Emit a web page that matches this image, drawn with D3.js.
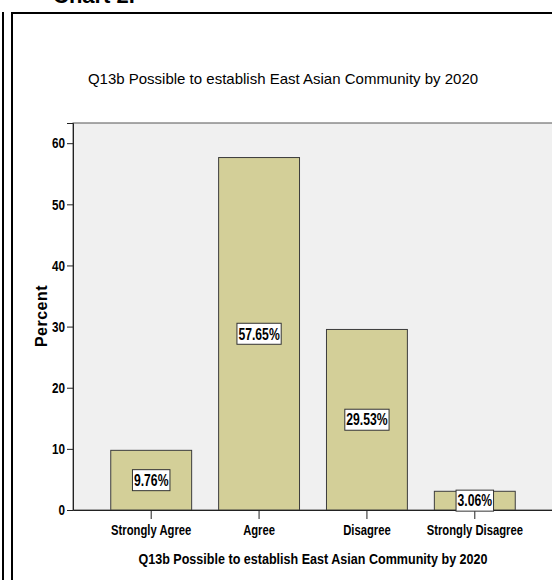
<!DOCTYPE html>
<html>
<head>
<meta charset="utf-8">
<script src="https://cdn.jsdelivr.net/npm/d3@7"></script>
<style>
  body { margin: 0; background: #ffffff; }
  svg { display: block; }
  .narrow { font-family: "Liberation Sans", Arial, sans-serif; font-weight: bold; }
</style>
</head>
<body>
<div id="chart"></div>
<script>
(function () {

    // data
    var categories = ["Strongly Agree", "Agree", "Disagree", "Strongly Disagree"];
    var percents = [9.76, 57.65, 29.53, 3.06];
    var y_ticks = [0, 10, 20, 30, 40, 50, 60];

    var width = 552, height = 580;
    var plot = { left: 73, top: 123, right: 553, bottom: 510 };

    // squeeze text horizontally to get a condensed face, like Arial Narrow
    function condense(sel, factor) {
        sel.each(function () {
            var w = this.getComputedTextLength();
            d3.select(this)
                .attr("textLength", w * factor)
                .attr("lengthAdjust", "spacingAndGlyphs");
        });
    }

    var svg = d3.select("#chart").append("svg")
        .attr("width", width)
        .attr("height", height);

    // page header, cut off at the top
    svg.append("text")
        .attr("x", 53)
        .attr("y", 3)
        .style("font-family", "Liberation Sans, Arial, sans-serif")
        .style("font-weight", "bold")
        .style("font-size", "22px")
        .text("Chart 2.");

    // frames
    svg.append("line")
        .attr("x1", 3).attr("y1", 12).attr("x2", 3).attr("y2", height)
        .style("stroke", "#000").style("stroke-width", 2);
    svg.append("path")
        .attr("d", "M12," + height + "V13H" + width)
        .style("fill", "none").style("stroke", "#000").style("stroke-width", 2);

    var x = d3.scaleBand()
        .domain(categories)
        .range([plot.left, plot.right])
        .paddingInner(0.25)
        .paddingOuter(0.35);

    var y = d3.scaleLinear()
        .domain([0, 63.3])
        .range([plot.bottom, plot.top]);

    // plot background
    svg.append("rect")
        .attr("x", plot.left)
        .attr("y", plot.top)
        .attr("width", plot.right - plot.left)
        .attr("height", plot.bottom - plot.top)
        .style("fill", "#f0f0f0")
        .style("stroke", "#555")
        .style("stroke-width", 1);

    var bars = categories.map(function (c, i) { return { cat: c, value: percents[i] }; });

    svg.selectAll("rect.bar")
        .data(bars)
        .enter()
        .append("rect")
        .attr("class", "bar")
        .attr("x", function (d) { return x(d.cat); })
        .attr("y", function (d) { return y(d.value); })
        .attr("width", x.bandwidth())
        .attr("height", function (d) { return y(0) - y(d.value); })
        .style("fill", "#d3cf98")
        .style("stroke", "#3c3c3c")
        .style("stroke-width", 1);

    // axes
    var yAxis = svg.append("g")
        .attr("transform", "translate(" + plot.left + ",0)")
        .call(d3.axisLeft(y).tickValues(y_ticks).tickSize(6).tickPadding(2).tickFormat(d3.format("d")));
    yAxis.attr("font-family", null).attr("font-size", null).attr("class", "narrow");
    yAxis.select(".domain").style("stroke", "#222");
    yAxis.selectAll(".tick line").style("stroke", "#222");
    yAxis.selectAll("text").style("font-size", "15px").style("fill", "#000").call(condense, 0.78);

    var xAxis = svg.append("g")
        .attr("transform", "translate(0," + plot.bottom + ")")
        .call(d3.axisBottom(x).tickSize(9).tickSizeOuter(0).tickPadding(5));
    xAxis.attr("font-family", null).attr("font-size", null).attr("class", "narrow");
    xAxis.select(".domain").style("stroke", "#222");
    xAxis.selectAll(".tick line").style("stroke", "#222");
    xAxis.selectAll("text").style("font-size", "15px").style("fill", "#000").call(condense, 0.75);

    // value labels in white boxes
    var labels = svg.selectAll("g.label")
        .data(bars)
        .enter()
        .append("g")
        .attr("class", "label narrow")
        .attr("transform", function (d) {
            return "translate(" + (x(d.cat) + x.bandwidth() / 2) + "," + ((y(d.value) + y(0)) / 2) + ")";
        });

    labels.append("text")
        .attr("text-anchor", "middle")
        .attr("dy", "0.36em")
        .style("font-size", "16px")
        .text(function (d) { return d.value.toFixed(2) + "%"; })
        .call(condense, 0.76);

    labels.each(function () {
        var g = d3.select(this);
        var w = +g.select("text").attr("textLength");
        g.insert("rect", "text")
            .attr("x", -w / 2 - 1.5)
            .attr("y", -10.5)
            .attr("width", w + 3)
            .attr("height", 21)
            .style("fill", "#fff")
            .style("stroke", "#333")
            .style("stroke-width", 1);
    });

    // titles
    svg.append("text")
        .attr("x", 283)
        .attr("y", 84)
        .attr("text-anchor", "middle")
        .style("font-family", "Liberation Sans, Arial, sans-serif")
        .style("font-size", "15px")
        .text("Q13b Possible to establish East Asian Community by 2020");

    svg.append("text")
        .attr("class", "narrow")
        .attr("x", (plot.left + plot.right) / 2)
        .attr("y", 564)
        .attr("text-anchor", "middle")
        .style("font-size", "15.5px")
        .text("Q13b Possible to establish East Asian Community by 2020")
        .call(condense, 0.81);

    svg.append("text")
        .attr("transform", "translate(47,316) rotate(-90)")
        .attr("text-anchor", "middle")
        .style("font-family", "Liberation Sans, Arial, sans-serif")
        .style("font-weight", "bold")
        .style("font-size", "16px")
        .style("letter-spacing", "0.5px")
        .text("Percent");
})();
</script>
</body>
</html>
